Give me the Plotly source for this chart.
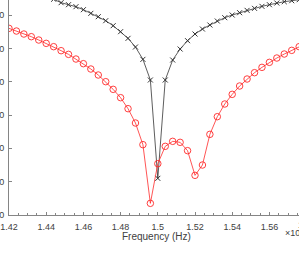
import plotly.graph_objects as go

# Frequency (x 10^4 Hz)
freq = [1.420, 1.424, 1.428, 1.432, 1.436, 1.440, 1.444, 1.448, 1.452, 1.456,
        1.460, 1.464, 1.468, 1.472, 1.476, 1.480, 1.484, 1.488, 1.492, 1.496,
        1.500, 1.504, 1.508, 1.512, 1.516, 1.520, 1.524, 1.528, 1.532, 1.536,
        1.540, 1.544, 1.548, 1.552, 1.556, 1.560, 1.564, 1.568, 1.572, 1.576,
        1.580]

# red series (circles)
red_vals = [-4.0, -4.8, -5.7, -6.5, -7.5, -8.5, -9.5, -10.7, -11.8, -13.2,
            -14.6, -16.2, -18.0, -20.0, -22.3, -24.8, -28.1, -32.4, -38.9, -56.5,
            -44.6, -39.4, -37.9, -38.2, -40.7, -48.1, -45.0, -35.8, -30.5, -26.7,
            -23.8, -21.3, -19.2, -17.3, -15.7, -14.2, -12.9, -11.7, -10.6, -9.5,
            -8.5]

# black series (x markers)
black_vals = [7.65, 7.2, 6.75, 6.3, 5.85, 5.4, 4.74, 3.7, 3.1, 2.5,
              1.6, 0.5, -0.5, -1.7, -3.2, -5.0, -7.0, -9.6, -13.3, -19.5,
              -49.0, -19.5, -13.5, -10.2, -7.7, -5.7, -4.2, -3.0, -1.8, -0.8,
              0.0, 0.7, 1.4, 2.0, 2.6, 3.1, 3.6, 4.0, 4.3, 4.6,
              4.9]

x_tickvals = [1.42, 1.44, 1.46, 1.48, 1.50, 1.52, 1.54, 1.56]
x_ticktext = ["1.42", "1.44", "1.46", "1.48", "1.5", "1.52", "1.54", "1.56"]
x_cut_label = "1.58"
y_tickvals = [-60, -50, -40, -30, -20, -10, 0]
y_ticktext = ["-60", "-50", "-40", "-30", "-20", "-10", "0"]
x_title = "Frequency (Hz)"
x_exponent = "×10<sup>4</sup>"

axis_col = "#858585"
text_col = "#404040"
font_fam = "Liberation Sans, Arial, sans-serif"

fig = go.Figure()
fig.add_trace(go.Scatter(
    x=freq, y=black_vals, mode="lines+markers",
    line=dict(color="#333333", width=0.8),
    marker=dict(symbol="x-thin-open", size=5, color="#333333",
                line=dict(color="#333333", width=1)),
    showlegend=False))
fig.add_trace(go.Scatter(
    x=freq, y=red_vals, mode="lines+markers",
    line=dict(color="#ff2a2a", width=0.8),
    marker=dict(symbol="circle-open", size=6.5, color="#ff2a2a",
                line=dict(color="#ff2a2a", width=0.9)),
    showlegend=False))

fig.update_layout(
    width=299, height=258,
    margin=dict(l=9, r=0, t=0, b=43, pad=0),
    paper_bgcolor="white", plot_bgcolor="white",
    font=dict(family=font_fam, size=9, color=text_col),
    xaxis=dict(
        range=[1.42, 1.42 + 290 / 1860], automargin=False,
        showline=True, linecolor=axis_col, linewidth=1, mirror=False,
        showgrid=False, zeroline=False,
        tickmode="array", tickvals=x_tickvals, ticktext=x_ticktext,
        ticks="inside", ticklen=3.5, tickcolor=axis_col, tickwidth=1,
        ticklabelstandoff=3,
        tickfont=dict(family=font_fam, size=9, color=text_col),
        minor=dict(dtick=0.005, tick0=1.42, ticks="inside", ticklen=2,
                   tickcolor=axis_col, tickwidth=1, showgrid=False),
    ),
    yaxis=dict(
        range=[-60, -60 + 215 / 3.333], automargin=False,
        showline=True, linecolor=axis_col, linewidth=1,
        showgrid=False, zeroline=False,
        tickmode="array", tickvals=y_tickvals, ticktext=y_ticktext,
        ticks="inside", ticklen=3, tickcolor=axis_col, tickwidth=1,
        ticklabelstandoff=2,
        tickfont=dict(family=font_fam, size=9, color=text_col),
    ),
    annotations=[
        dict(text=x_title, xref="paper", yref="paper", x=0.51, y=-0.102,
             xanchor="center", yanchor="middle", showarrow=False,
             font=dict(family=font_fam, size=10, color=text_col)),
        dict(text=x_exponent, xref="paper", yref="paper", x=(283 - 9) / 290, y=-0.08,
             xanchor="left", yanchor="middle", showarrow=False,
             font=dict(family=font_fam, size=9, color=text_col)),
        dict(text=x_cut_label, xref="paper", yref="paper", x=(306.6 - 9) / 290, y=-0.047,
             xanchor="center", yanchor="middle", showarrow=False,
             font=dict(family=font_fam, size=9, color=text_col)),
    ],
)

fig.write_html(
    "out.html",
    config={"displayModeBar": False},
    post_script="document.body.style.margin='0';document.body.style.overflow='hidden';",
)
